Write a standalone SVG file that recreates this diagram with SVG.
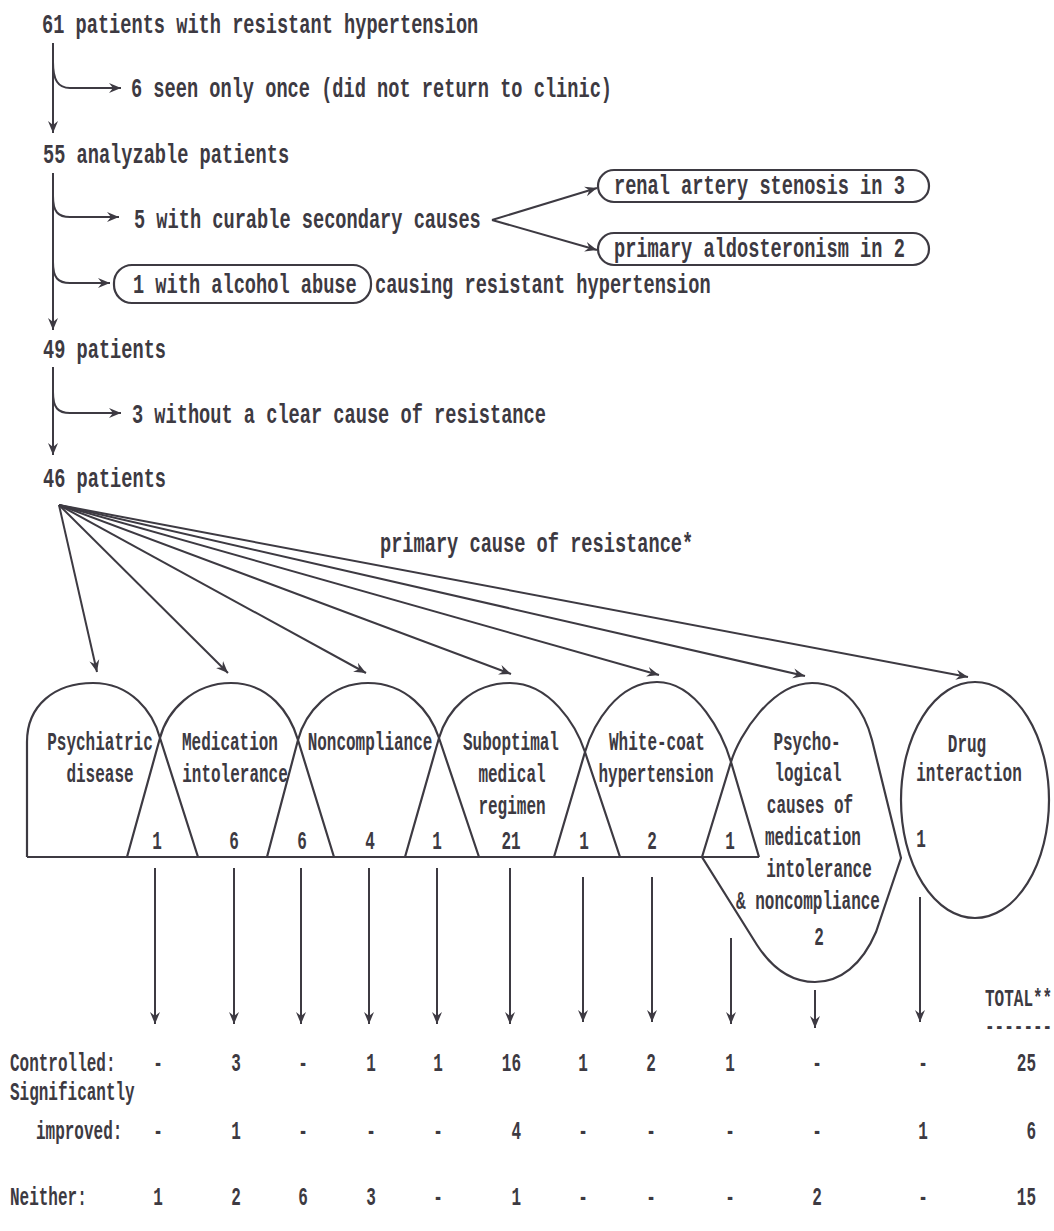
<svg xmlns="http://www.w3.org/2000/svg" width="1054" height="1231" viewBox="0 0 1054 1231">
<style>
text{font-family:"Liberation Mono","DejaVu Sans Mono",monospace;font-weight:bold;fill:#3d3a42}
.t{font-size:27px}
.s{font-size:26px}
.k{font-size:23px}
.m{text-anchor:middle}
.e{text-anchor:end}
.ln{fill:none;stroke:#3d3a42;stroke-width:2}
.shape{fill:none;stroke:#3d3a42;stroke-width:2.2}
</style>
<defs>
<marker id="ah" markerUnits="userSpaceOnUse" markerWidth="14" markerHeight="12" refX="12" refY="6" orient="auto"><path d="M0,1 L12,6 L0,11 L4,6 z" fill="#3d3a42"/></marker>
</defs>
<rect width="1054" height="1231" fill="#ffffff"/>

<g id="connectors">
<path class="ln" d="M53,43 V133" marker-end="url(#ah)"/>
<path class="ln" d="M53,62 C53,80 58,88 70,88 L121,88" marker-end="url(#ah)"/>
<path class="ln" d="M53,173 V330" marker-end="url(#ah)"/>
<path class="ln" d="M53,196 C53,212 58,217 70,217 L119,217" marker-end="url(#ah)"/>
<path class="ln" d="M53,262 C53,278 58,283 70,283 L110,283" marker-end="url(#ah)"/>
<path class="ln" d="M492,220 L597,188" marker-end="url(#ah)"/>
<path class="ln" d="M492,220 L597,250" marker-end="url(#ah)"/>
<path class="ln" d="M53,367 V455" marker-end="url(#ah)"/>
<path class="ln" d="M53,392 C53,408 58,413 70,413 L121,413" marker-end="url(#ah)"/>
<path class="ln" d="M59,505 L97,672" marker-end="url(#ah)"/>
<path class="ln" d="M59,505 L228,673" marker-end="url(#ah)"/>
<path class="ln" d="M59,505 L366,673" marker-end="url(#ah)"/>
<path class="ln" d="M59,505 L511,674" marker-end="url(#ah)"/>
<path class="ln" d="M59,505 L659,675" marker-end="url(#ah)"/>
<path class="ln" d="M59,505 L805,676" marker-end="url(#ah)"/>
<path class="ln" d="M59,505 L968,677" marker-end="url(#ah)"/>
<path class="ln" d="M155,868 V1024" marker-end="url(#ah)"/>
<path class="ln" d="M234,868 V1024" marker-end="url(#ah)"/>
<path class="ln" d="M301,868 V1024" marker-end="url(#ah)"/>
<path class="ln" d="M369,868 V1024" marker-end="url(#ah)"/>
<path class="ln" d="M437,868 V1024" marker-end="url(#ah)"/>
<path class="ln" d="M510,868 V1024" marker-end="url(#ah)"/>
<path class="ln" d="M583,877 V1022" marker-end="url(#ah)"/>
<path class="ln" d="M652,877 V1022" marker-end="url(#ah)"/>
<path class="ln" d="M731,938 V1024" marker-end="url(#ah)"/>
<path class="ln" d="M815,990 V1028" marker-end="url(#ah)"/>
<path class="ln" d="M920,897 V1022" marker-end="url(#ah)"/>
</g>

<g id="n61"><text class="t" transform="translate(42 33) scale(0.691 1)">61 patients with resistant hypertension</text></g>
<g id="n6"><text class="t" transform="translate(131 97) scale(0.691 1)">6 seen only once (did not return to clinic)</text></g>
<g id="n55"><text class="t" transform="translate(43 163) scale(0.691 1)">55 analyzable patients</text></g>
<g id="n5"><text class="t" transform="translate(134 228) scale(0.691 1)">5 with curable secondary causes</text></g>
<g id="nRenal"><rect class="shape" x="598" y="170" width="331" height="32" rx="16"/><text class="t" transform="translate(614 194) scale(0.691 1)">renal artery stenosis in 3</text></g>
<g id="nAldo"><rect class="shape" x="598" y="233" width="331" height="32" rx="16"/><text class="t" transform="translate(614 257) scale(0.691 1)">primary aldosteronism in 2</text></g>
<g id="nAlcohol"><rect class="shape" x="114" y="265" width="257" height="38" rx="18"/><text class="t" transform="translate(133 293) scale(0.691 1)">1 with alcohol abuse</text><text class="t" transform="translate(375 293) scale(0.691 1)">causing resistant hypertension</text></g>
<g id="n49"><text class="t" transform="translate(43 358) scale(0.691 1)">49 patients</text></g>
<g id="n3"><text class="t" transform="translate(132 423) scale(0.691 1)">3 without a clear cause of resistance</text></g>
<g id="n46"><text class="t" transform="translate(43 487) scale(0.691 1)">46 patients</text></g>
<g id="lblPrimary"><text class="t" transform="translate(380 552) scale(0.691 1)">primary cause of resistance*</text></g>

<g id="baseline"><path class="shape" d="M27,857 H759"/></g>
<g id="sPsychiatric">
<path class="shape" d="M27,857 V742 C27,705 55,683 93,683 C131,683 153,712 160,738 L198,857"/>
<text class="s m" transform="translate(100 750) scale(0.615 1)">Psychiatric</text>
<text class="s m" transform="translate(100 782) scale(0.615 1)">disease</text>
</g>
<g id="sMedication">
<path class="shape" d="M127,857 L160,738 C167,711 193,683 231,683 C269,683 290,713 298,740 L334,857"/>
<text class="s m" transform="translate(230 750) scale(0.615 1)">Medication</text>
<text class="s m" transform="translate(235 782) scale(0.615 1)">intolerance</text>
</g>
<g id="sNoncompliance">
<path class="shape" d="M267,857 L298,740 C305,713 330,683 368,683 C406,683 430,711 439,738 L479,857"/>
<text class="s m" transform="translate(370 750) scale(0.615 1)">Noncompliance</text>
</g>
<g id="sSuboptimal">
<path class="shape" d="M405,857 L439,738 C447,711 471,683 510,683 C550,683 576,725 585,752 L620,857"/>
<text class="s m" transform="translate(511 750) scale(0.615 1)">Suboptimal</text>
<text class="s m" transform="translate(512 782) scale(0.615 1)">medical</text>
<text class="s m" transform="translate(512 814) scale(0.615 1)">regimen</text>
</g>
<g id="sWhiteCoat">
<path class="shape" d="M554,857 L585,752 C593,725 617,682 657,682 C697,682 723,735 731,762 L759,857"/>
<text class="s m" transform="translate(657 750) scale(0.615 1)">White-coat</text>
<text class="s m" transform="translate(656 782) scale(0.615 1)">hypertension</text>
</g>
<g id="sPsychological">
<path class="shape" d="M702,857 L731,762 C739,735 772,683 812,683 C848,683 865,713 872,740 L901,858 L876,932 C862,965 840,982 815,982 C790,982 772,968 757,945 Z"/>
<text class="s m" transform="translate(807 750) scale(0.615 1)">Psycho-</text>
<text class="s m" transform="translate(808 781) scale(0.615 1)">logical</text>
<text class="s m" transform="translate(810 813) scale(0.615 1)">causes of</text>
<text class="s m" transform="translate(813 845) scale(0.615 1)">medication</text>
<text class="s m" transform="translate(819 877) scale(0.615 1)">intolerance</text>
<text class="s m" transform="translate(808 909) scale(0.615 1)">&amp; noncompliance</text>
<text class="s m" transform="translate(819 945) scale(0.615 1)">2</text>
</g>
<g id="sDrug">
<ellipse class="shape" cx="975" cy="800" rx="74" ry="118"/>
<text class="s m" transform="translate(967 752) scale(0.615 1)">Drug</text>
<text class="s m" transform="translate(969 781) scale(0.615 1)">interaction</text>
<text class="s m" transform="translate(921 847) scale(0.615 1)">1</text>
</g>
<g id="counts">
<text class="s m" transform="translate(157 849) scale(0.615 1)">1</text>
<text class="s m" transform="translate(234 849) scale(0.615 1)">6</text>
<text class="s m" transform="translate(302 849) scale(0.615 1)">6</text>
<text class="s m" transform="translate(370 849) scale(0.615 1)">4</text>
<text class="s m" transform="translate(437 849) scale(0.615 1)">1</text>
<text class="s m" transform="translate(511 849) scale(0.615 1)">21</text>
<text class="s m" transform="translate(584 849) scale(0.615 1)">1</text>
<text class="s m" transform="translate(652 849) scale(0.615 1)">2</text>
<text class="s m" transform="translate(730 849) scale(0.615 1)">1</text>
</g>

<g id="table">
<text class="k" transform="translate(985 1006) scale(0.696 1)">TOTAL**</text>
<text class="k" transform="translate(985 1034) scale(0.696 1)">-------</text>
<text class="s" transform="translate(10 1071) scale(0.615 1)">Controlled:</text>
<text class="s" transform="translate(10 1100) scale(0.615 1)">Significantly</text>
<text class="s" transform="translate(36 1139) scale(0.615 1)">improved:</text>
<text class="s" transform="translate(10 1205) scale(0.615 1)">Neither:</text>
<g id="row1">
<text class="s m" transform="translate(158 1071) scale(0.615 1)">-</text>
<text class="s m" transform="translate(236 1071) scale(0.615 1)">3</text>
<text class="s m" transform="translate(303 1071) scale(0.615 1)">-</text>
<text class="s m" transform="translate(371 1071) scale(0.615 1)">1</text>
<text class="s m" transform="translate(438 1071) scale(0.615 1)">1</text>
<text class="s e" transform="translate(521 1071) scale(0.615 1)">16</text>
<text class="s m" transform="translate(583 1071) scale(0.615 1)">1</text>
<text class="s m" transform="translate(651 1071) scale(0.615 1)">2</text>
<text class="s m" transform="translate(730 1071) scale(0.615 1)">1</text>
<text class="s m" transform="translate(817 1071) scale(0.615 1)">-</text>
<text class="s m" transform="translate(923 1071) scale(0.615 1)">-</text>
<text class="s e" transform="translate(1036 1071) scale(0.615 1)">25</text>
</g>
<g id="row2">
<text class="s m" transform="translate(158 1139) scale(0.615 1)">-</text>
<text class="s m" transform="translate(236 1139) scale(0.615 1)">1</text>
<text class="s m" transform="translate(303 1139) scale(0.615 1)">-</text>
<text class="s m" transform="translate(371 1139) scale(0.615 1)">-</text>
<text class="s m" transform="translate(438 1139) scale(0.615 1)">-</text>
<text class="s e" transform="translate(521 1139) scale(0.615 1)">4</text>
<text class="s m" transform="translate(583 1139) scale(0.615 1)">-</text>
<text class="s m" transform="translate(651 1139) scale(0.615 1)">-</text>
<text class="s m" transform="translate(730 1139) scale(0.615 1)">-</text>
<text class="s m" transform="translate(817 1139) scale(0.615 1)">-</text>
<text class="s m" transform="translate(923 1139) scale(0.615 1)">1</text>
<text class="s e" transform="translate(1036 1139) scale(0.615 1)">6</text>
</g>
<g id="row3">
<text class="s m" transform="translate(158 1205) scale(0.615 1)">1</text>
<text class="s m" transform="translate(236 1205) scale(0.615 1)">2</text>
<text class="s m" transform="translate(303 1205) scale(0.615 1)">6</text>
<text class="s m" transform="translate(371 1205) scale(0.615 1)">3</text>
<text class="s m" transform="translate(438 1205) scale(0.615 1)">-</text>
<text class="s e" transform="translate(521 1205) scale(0.615 1)">1</text>
<text class="s m" transform="translate(583 1205) scale(0.615 1)">-</text>
<text class="s m" transform="translate(651 1205) scale(0.615 1)">-</text>
<text class="s m" transform="translate(730 1205) scale(0.615 1)">-</text>
<text class="s m" transform="translate(817 1205) scale(0.615 1)">2</text>
<text class="s m" transform="translate(923 1205) scale(0.615 1)">-</text>
<text class="s e" transform="translate(1036 1205) scale(0.615 1)">15</text>
</g>
</g>
</svg>
